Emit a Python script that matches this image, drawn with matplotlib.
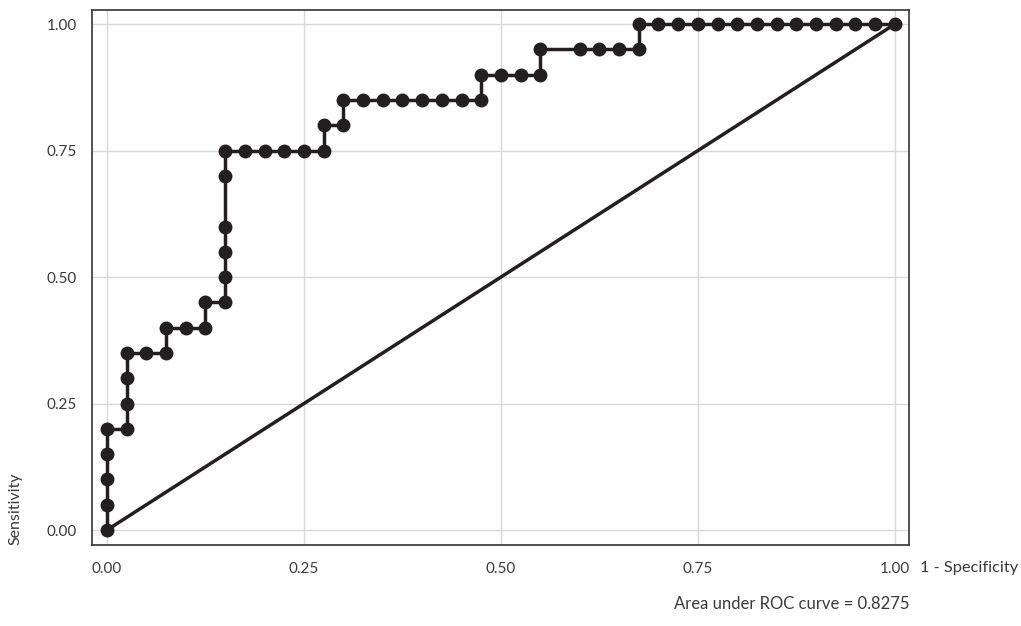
import numpy as np
import matplotlib.pyplot as plt

# ROC points (1 - specificity, sensitivity)
fpr = [0.0, 0.0, 0.0, 0.0, 0.0, 0.025, 0.025, 0.025, 0.025, 0.05, 0.075, 0.075,
       0.1, 0.125, 0.125, 0.15, 0.15, 0.15, 0.15, 0.15, 0.15,
       0.175, 0.2, 0.225, 0.25, 0.275, 0.275, 0.3, 0.3,
       0.325, 0.35, 0.375, 0.4, 0.425, 0.45, 0.475, 0.475,
       0.5, 0.525, 0.55, 0.55, 0.6, 0.625, 0.65, 0.675, 0.675,
       0.7, 0.725, 0.75, 0.775, 0.8, 0.825, 0.85, 0.875, 0.9, 0.925, 0.95, 0.975, 1.0]
tpr = [0.0, 0.05, 0.10, 0.15, 0.20, 0.20, 0.25, 0.30, 0.35, 0.35, 0.35, 0.40,
       0.40, 0.40, 0.45, 0.45, 0.50, 0.55, 0.60, 0.70, 0.75,
       0.75, 0.75, 0.75, 0.75, 0.75, 0.80, 0.80, 0.85,
       0.85, 0.85, 0.85, 0.85, 0.85, 0.85, 0.85, 0.90,
       0.90, 0.90, 0.90, 0.95, 0.95, 0.95, 0.95, 0.95, 1.0,
       1.0, 1.0, 1.0, 1.0, 1.0, 1.0, 1.0, 1.0, 1.0, 1.0, 1.0, 1.0, 1.0]
auc = 0.8275
ticks = [0.0, 0.25, 0.5, 0.75, 1.0]

ink = '#231f20'
txt = '#3a3a3a'
plt.rcParams['font.family'] = ['Lato', 'DejaVu Sans']

fig = plt.figure(figsize=(10.21, 6.26), dpi=100)
ax = fig.add_axes([92 / 1021, 1 - 545 / 626, (909 - 92) / 1021, (545 - 10) / 626])

ax.plot([0, 1], [0, 1], color=ink, lw=2.5, solid_capstyle='round', zorder=2)
ax.plot(fpr, tpr, color=ink, lw=2.5, marker='o', ms=9, zorder=3)

ax.set_xlim(-0.019, 1.018)
ax.set_ylim(-0.0296, 1.028)
ax.set_xticks(ticks)
ax.set_yticks(ticks)
ax.set_xticklabels([f'{t:.2f}' for t in ticks])
ax.set_yticklabels([f'{t:.2f}' for t in ticks])
ax.tick_params(length=0, labelsize=11, labelcolor=txt)
ax.tick_params(axis='x', pad=12)
ax.tick_params(axis='y', pad=11)
ax.grid(True, color='#d9d9d9', lw=1)
ax.set_axisbelow(True)
for s in ax.spines.values():
    s.set_color('#333333')
    s.set_linewidth(1.2)

fig.text(920 / 1021, 1 - 568 / 626, '1 - Specificity', fontsize=11.8, color=txt,
         ha='left', va='center')
fig.text(15 / 1021, 1 - 545 / 626, 'Sensitivity', fontsize=11.5, color=txt,
         rotation=90, ha='center', va='bottom')
fig.text(909 / 1021, 1 - 604 / 626, f'Area under ROC curve = {auc}', fontsize=12,
         color=txt, ha='right', va='center')

fig.savefig('out.png', dpi=100)
